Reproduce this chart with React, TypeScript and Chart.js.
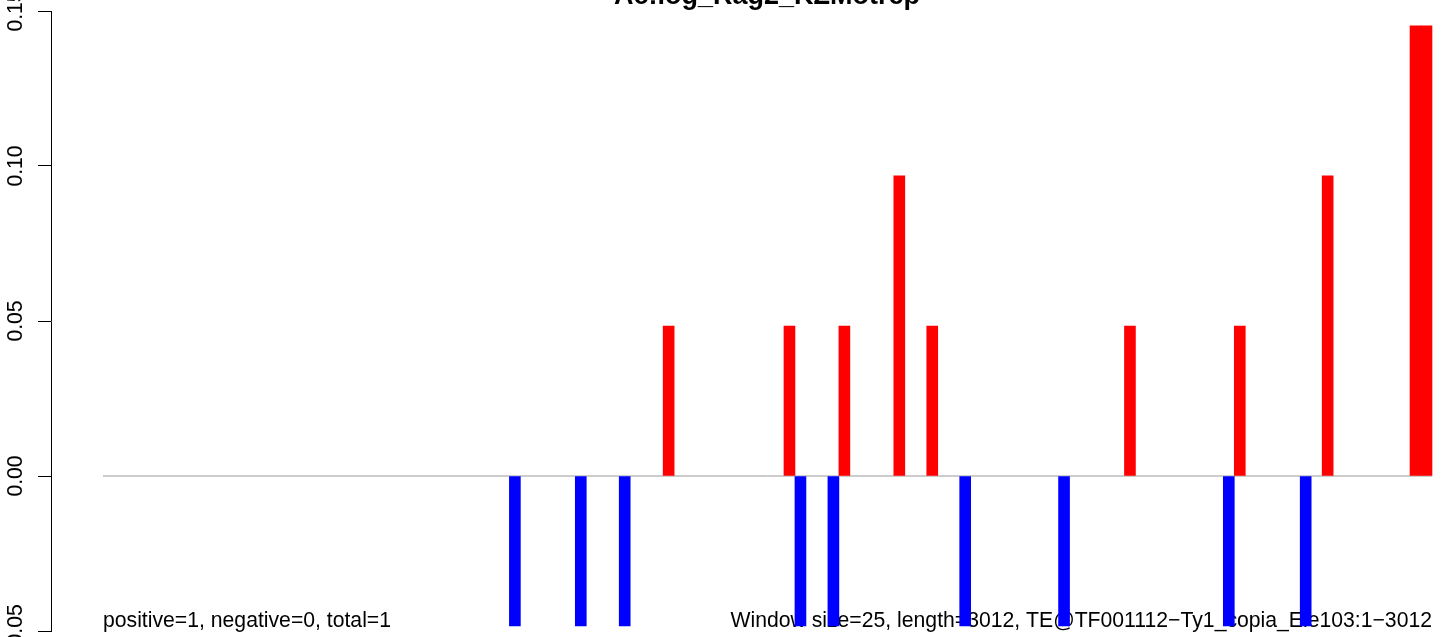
import React, { useEffect, useRef } from "react";
import { Chart, registerables } from "chart.js";

Chart.register(...registerables);

// ---- data ----
const titleText = "Ac:log_Rag2_KZMotrep";
const leftNote = "positive=1, negative=0, total=1";
const rightNote = "Window size=25, length=3012, TE@TF001112\u2212Ty1_copia_Ele103:1\u22123012";
const windowCount = 121; // windows 0..120
const positiveWindows = [51, 62, 67, 72, 75, 93, 103, 111, 119, 120];
const positiveValues = [0.0484, 0.0484, 0.0484, 0.0968, 0.0484, 0.0484, 0.0484, 0.0968, 0.1452, 0.1452];
const negativeWindows = [37, 43, 47, 63, 66, 78, 87, 102, 109];
const negativeValues = [-0.0484, -0.0484, -0.0484, -0.0484, -0.0484, -0.0484, -0.0484, -0.0484, -0.0484];
const yMin = -0.05;
const yMax = 0.15;
const yStep = 0.05;

const FONT = '"Liberation Sans", Arial, Helvetica, sans-serif';

function fmtTick(v: number): string {
  if (Math.abs(v) < 1e-9) return "0.00";
  return (v < 0 ? "\u2212" : "") + Math.abs(v).toFixed(2);
}

const decorPlugin = {
  id: "rDecor",
  beforeDatasetsDraw(chart: any) {
    const ctx = chart.ctx;
    const xs = chart.scales.x;
    ctx.save();
    ctx.fillStyle = "#000";
    ctx.font = `21.2px ${FONT}`;
    ctx.textBaseline = "alphabetic";
    ctx.textAlign = "left";
    ctx.fillText(leftNote, xs.getPixelForValue(-0.5), 627);
    ctx.textAlign = "right";
    ctx.fillText(rightNote, xs.getPixelForValue(windowCount - 0.5), 627);
    ctx.restore();
  },
  afterDraw(chart: any) {
    const ctx = chart.ctx;
    const ys = chart.scales.y;
    ctx.save();
    ctx.fillStyle = "#000";
    ctx.font = `21.2px ${FONT}`;
    for (const t of ys.ticks) {
      const py = ys.getPixelForValue(t.value);
      ctx.save();
      ctx.translate(22, py);
      ctx.rotate(-Math.PI / 2);
      ctx.textAlign = "center";
      ctx.textBaseline = "alphabetic";
      ctx.fillText(fmtTick(t.value), 0, 0);
      ctx.restore();
    }
    ctx.font = `bold 27px ${FONT}`;
    ctx.textAlign = "center";
    ctx.textBaseline = "alphabetic";
    ctx.fillText(titleText, 767, 4);
    ctx.restore();
  },
};

export default function App() {
  const ref = useRef<HTMLCanvasElement | null>(null);

  useEffect(() => {
    if (!ref.current) return;
    const pos = positiveWindows.map((w, i) => ({ x: w, y: positiveValues[i] }));
    const neg = negativeWindows.map((w, i) => ({ x: w, y: negativeValues[i] }));
    const chart = new Chart(ref.current, {
      type: "bar",
      data: {
        datasets: [
          {
            type: "line",
            data: [
              { x: -0.5, y: 0 },
              { x: windowCount - 0.5, y: 0 },
            ],
            borderColor: "#999999",
            borderWidth: 1,
            pointRadius: 0,
            order: 3,
          } as any,
          {
            type: "bar",
            data: pos,
            backgroundColor: "#ff0000",
            borderWidth: 0,
            barPercentage: 1,
            categoryPercentage: 1,
            grouped: false,
            order: 1,
          } as any,
          {
            type: "bar",
            data: neg,
            backgroundColor: "#0000ff",
            borderWidth: 0,
            barPercentage: 1,
            categoryPercentage: 1,
            grouped: false,
            order: 1,
          } as any,
        ],
      },
      options: {
        animation: false,
        responsive: false,
        layout: { padding: { left: 0, right: 0, top: 11, bottom: 6 } },
        plugins: { legend: { display: false }, tooltip: { enabled: false }, title: { display: false } },
        scales: {
          x: {
            type: "linear",
            display: false,
            offset: false,
            min: -5.235,
            max: 121.32,
          },
          y: {
            type: "linear",
            min: yMin,
            max: yMax,
            afterFit: (scale: any) => {
              scale.width = 51;
            },
            ticks: { display: false, stepSize: yStep },
            grid: {
              drawOnChartArea: false,
              drawTicks: true,
              tickLength: 13,
              color: "#000",
              lineWidth: 1,
            },
            border: { display: true, color: "#000", width: 1 },
          },
        },
      } as any,
      plugins: [decorPlugin],
    });
    return () => chart.destroy();
  }, []);

  return (
    <div style={{ position: "fixed", left: 0, top: 0, width: 1441, height: 637, background: "#fff" }}>
      <canvas ref={ref} width={1441} height={637} style={{ display: "block" }} />
    </div>
  );
}
